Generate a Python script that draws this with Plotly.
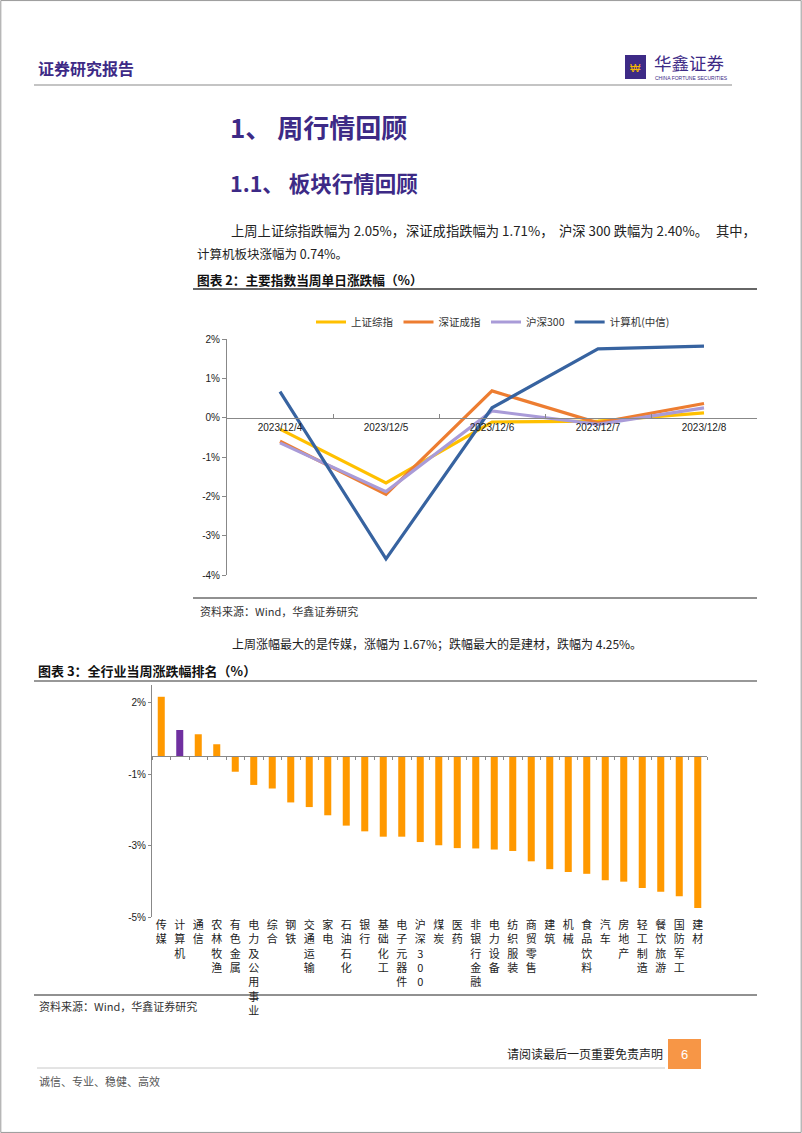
import plotly.graph_objects as go

W, H = 802, 1133

# ---------------- data ----------------
dates = ["2023/12/4", "2023/12/5", "2023/12/6", "2023/12/7", "2023/12/8"]
sh_index = [-0.29, -1.66, -0.11, -0.09, 0.12]      # 上证综指
sz_index = [-0.60, -1.95, 0.68, -0.13, 0.36]       # 深证成指
hs300 = [-0.64, -1.88, 0.17, -0.17, 0.25]          # 沪深300
computer = [0.66, -3.59, 0.25, 1.75, 1.82]         # 计算机(中信)
line_tickvals = [2, 1, 0, -1, -2, -3, -4]
line_ticktext = ["2%", "1%", "0%", "-1%", "-2%", "-3%", "-4%"]

industries = ["传媒", "计算机", "通信", "农林牧渔", "有色金属", "电力及公用事业", "综合",
              "钢铁", "交通运输", "家电", "石油石化", "银行", "基础化工", "电子元器件",
              "沪深300", "煤炭", "医药", "非银行金融", "电力设备", "纺织服装", "商贸零售",
              "建筑", "机械", "食品饮料", "汽车", "房地产", "轻工制造", "餐饮旅游",
              "国防军工", "建材"]
ind_values = [1.67, 0.74, 0.62, 0.34, -0.43, -0.80, -0.90, -1.29, -1.42, -1.65,
              -1.94, -2.10, -2.25, -2.25, -2.40, -2.49, -2.57, -2.58, -2.61, -2.65,
              -2.94, -3.16, -3.24, -3.29, -3.47, -3.51, -3.69, -3.79, -3.92, -4.25]
bar_tickvals = [1.5, -0.5, -2.5, -4.5]
bar_ticktext = ["2%", "-1%", "-3%", "-5%"]

# ---------------- helpers ----------------
def px(x):
    return x / W

def py(y):
    return 1 - y / H

PURPLE = "#3d2a86"
CJK = "Noto Sans CJK SC, Liberation Sans, sans-serif"
NUMF = "Liberation Sans, Noto Sans CJK SC, sans-serif"

fig = go.Figure()

# ---------------- line chart ----------------
line_series = [("上证综指", sh_index, "#FFC000"),
               ("深证成指", sz_index, "#ED7D31"),
               ("沪深300", hs300, "#A99BD8"),
               ("计算机(中信)", computer, "#3763A0")]
for name, vals, col in line_series:
    fig.add_trace(go.Scatter(x=dates, y=vals, name=name, mode="lines",
                             line=dict(color=col, width=3.2),
                             xaxis="x", yaxis="y", showlegend=True))

ly0, ly1 = py(575), py(339)
lrange = [-4, 2]
zero_pos_line = ly0 + (ly1 - ly0) * (0 - lrange[0]) / (lrange[1] - lrange[0])

# ---------------- bar chart ----------------
bar_colors = ["#7030A0" if n == "计算机" else "#FF9900" for n in industries]
bar_labels = ["<br>".join(list(n)) if n != "沪深300" else "沪<br>深<br>3<br>0<br>0"
              for n in industries]
fig.add_trace(go.Bar(x=bar_labels, y=ind_values, marker=dict(color=bar_colors, line=dict(width=0)),
                     width=0.38, xaxis="x2", yaxis="y2", showlegend=False))
# invisible helper trace for the zero axis with tick marks
fig.add_trace(go.Bar(x=bar_labels, y=[0] * len(bar_labels), xaxis="x3", yaxis="y2",
                     showlegend=False, hoverinfo="skip", marker=dict(color="rgba(0,0,0,0)")))

by0, by1 = py(917), py(685)
brange = [-4.5, 2.0]
zero_pos_bar = by0 + (by1 - by0) * (0 - brange[0]) / (brange[1] - brange[0])

fig.update_layout(
    template="none",
    width=W, height=H,
    margin=dict(l=0, r=0, t=0, b=0, pad=0, autoexpand=False),
    paper_bgcolor="white", plot_bgcolor="rgba(0,0,0,0)",
    font=dict(family=NUMF, color="#222"),
    legend=dict(orientation="h", x=px(311), y=py(322), xanchor="left", yanchor="middle",
                font=dict(family=CJK, size=10.5, color="#333"),
                tracegroupgap=0, bgcolor="rgba(0,0,0,0)", borderwidth=0),
    xaxis=dict(domain=[px(227), px(757)], anchor="free", position=zero_pos_line,
               type="category", range=[-0.5, len(dates) - 0.5],
               showline=True, linecolor="#888", linewidth=1,
               ticks="inside", ticklen=4, tickcolor="#888", tickson="boundaries",
               tickfont=dict(size=10, family=NUMF, color="#222"), showgrid=False,
               automargin=False, zeroline=False),
    yaxis=dict(domain=[ly0, ly1], range=lrange, anchor="x",
               tickvals=line_tickvals, ticktext=line_ticktext,
               showline=True, linecolor="#888", linewidth=1, ticks="outside", ticklen=4,
               tickcolor="#888", showgrid=False, zeroline=False, automargin=False,
               tickfont=dict(size=10, family=NUMF, color="#222")),
    xaxis2=dict(domain=[px(152), px(707)], anchor="y2", type="category",
                range=[-0.5, len(industries) - 0.5],
                showline=False, ticks="", showgrid=False, automargin=False, zeroline=False,
                tickfont=dict(size=11, family=CJK, color="#222"), tickangle=0),
    xaxis3=dict(domain=[px(152), px(707)], anchor="free", position=zero_pos_bar,
                overlaying="x2", type="category", range=[-0.5, len(industries) - 0.5],
                showline=True, linecolor="#888",
                linewidth=1, ticks="outside", ticklen=3, tickcolor="#888",
                tickson="boundaries", showticklabels=False, showgrid=False,
                automargin=False, zeroline=False),
    yaxis2=dict(domain=[by0, by1], range=brange, anchor="x2",
                tickvals=bar_tickvals, ticktext=bar_ticktext,
                showline=True, linecolor="#888", linewidth=1, ticks="outside", ticklen=3,
                tickcolor="#888", showgrid=False, zeroline=False, automargin=False,
                tickfont=dict(size=10, family=NUMF, color="#222")),
    bargap=0.6,
)

# ---------------- page decorations ----------------
shapes = []
annos = []

def hline(x0, x1, y, color, width):
    shapes.append(dict(type="line", xref="paper", yref="paper", x0=px(x0), x1=px(x1),
                       y0=py(y), y1=py(y), line=dict(color=color, width=width)))

def text(t, x, y, size, color="#222", bold=False, xanchor="left", family=CJK):
    if bold:
        t = "<b>" + t + "</b>"
    annos.append(dict(text=t, x=px(x), y=py(y), xref="paper", yref="paper",
                      xanchor=xanchor, yanchor="middle", showarrow=False, borderpad=0,
                      font=dict(size=size, color=color, family=family)))

# page border
shapes.append(dict(type="rect", xref="paper", yref="paper", x0=0.001, x1=0.999, y0=0.0005, y1=0.9995,
                   line=dict(color="#999", width=1)))

# header
text("证券研究报告", 37, 68, 16, PURPLE, bold=True)
shapes.append(dict(type="rect", xref="paper", yref="paper", x0=px(625), x1=px(646),
                   y0=py(79), y1=py(55), fillcolor="#3d2a86", line=dict(width=0)))
text("₩", 635.5, 67.5, 11, "#F5B800", xanchor="center", family=NUMF)
text("华鑫证券", 653, 62, 17.5, PURPLE)
text("CHINA FORTUNE SECURITIES", 654, 77.5, 5, PURPLE, family=NUMF)
hline(34, 732, 85, "#8a8a8a", 1.2)

# headings
text("1、 周行情回顾", 229, 126, 26, PURPLE, bold=True)
text("1.1、 板块行情回顾", 229, 183, 21.5, PURPLE, bold=True)

# justified first paragraph line (split into phrases so it spans the full column)
text("上周上证综指跌幅为 2.05%，", 230, 230, 13.3)
text("深证成指跌幅为 1.71%，", 405, 230, 13.3)
text("沪深 300 跌幅为 2.40%。", 558, 230, 13.3)
text("其中，", 757, 230, 13.3, xanchor="right")
text("计算机板块涨幅为 0.74%。", 196, 253, 12.5)

text("图表 2：主要指数当周单日涨跌幅（%）", 196, 280, 12.7, "#111", bold=True)
hline(193, 757, 289, "#333", 1.6)
hline(193, 757, 598, "#222", 1)
text("资料来源：Wind，华鑫证券研究", 199, 611, 11, "#333")
text("上周涨幅最大的是传媒，涨幅为 1.67%；跌幅最大的是建材，跌幅为 4.25%。", 231, 643, 12)
text("图表 3：全行业当周涨跌幅排名（%）", 37, 670, 13, "#111", bold=True)
hline(34, 757, 681, "#333", 1.2)
hline(34, 757, 995, "#222", 1)
text("资料来源：Wind，华鑫证券研究", 38, 1006, 11, "#333")

# footer
text("请阅读最后一页重要免责声明", 664, 1053, 12, "#222", xanchor="right")
shapes.append(dict(type="rect", xref="paper", yref="paper", x0=px(668), x1=px(701),
                   y0=py(1069), y1=py(1039), fillcolor="#F79646", line=dict(width=0)))
text("6", 684.5, 1054, 13, "white", xanchor="center", family=NUMF)
hline(37, 665, 1068, "#c8c8c8", 1)
text("诚信、专业、稳健、高效", 38, 1081, 11, "#555")

fig.update_layout(shapes=shapes, annotations=annos)

fig.write_html("out.html")
